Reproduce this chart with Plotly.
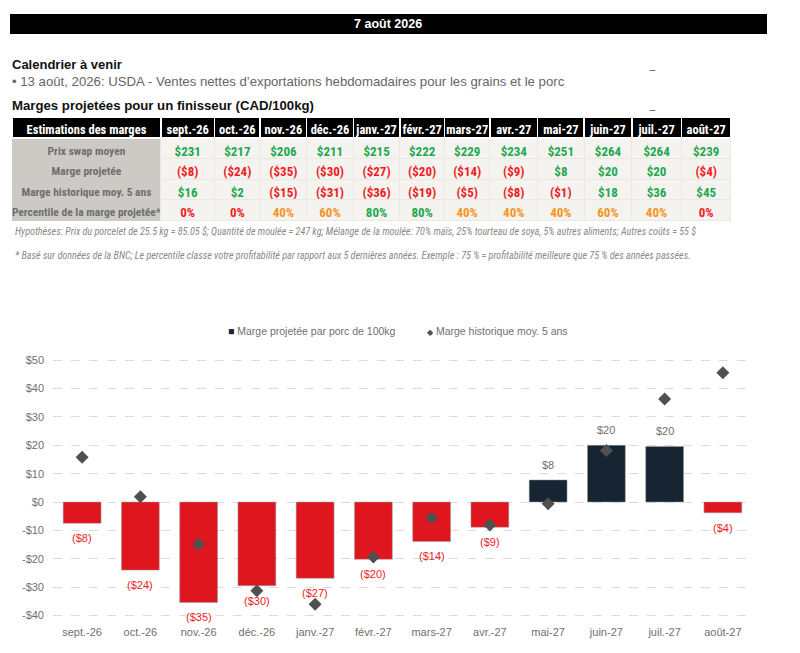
"""
Marges projetées pour un finisseur - tableau + graphique
"""
import plotly.graph_objects as go

# Données
months = ['sept.-26', 'oct.-26', 'nov.-26', 'déc.-26', 'janv.-27', 'févr.-27',
          'mars-27', 'avr.-27', 'mai-27', 'juin-27', 'juil.-27', 'août-27']
swap_price = [231, 217, 206, 211, 215, 222, 229, 234, 251, 264, 264, 239]
proj_margin_rounded = [-8, -24, -35, -30, -27, -20, -14, -9, 8, 20, 20, -4]
hist_margin_rounded = [16, 2, -15, -31, -36, -19, -5, -8, -1, 18, 36, 45]
percentile = [0, 0, 40, 60, 80, 80, 40, 40, 40, 60, 40, 0]

# valeurs
proj_margin = [-7.5, -24.0, -35.4, -29.5, -26.9, -20.2, -13.9, -8.9, 7.8, 20.0, 19.6, -3.8]
hist_margin = [15.8, 1.9, -14.9, -31.3, -36.0, -19.4, -5.6, -8.1, -0.6, 18.2, 36.3, 45.6]

row_labels = ['Prix swap moyen', 'Marge projetée', 'Marge historique moy. 5 ans',
              'Percentile de la marge projetée*']
y_tickvals = [-40, -30, -20, -10, 0, 10, 20, 30, 40, 50]
y_ticktext = ['-$40', '-$30', '-$20', '-$10', '$0', '$10', '$20', '$30', '$40', '$50']

GREEN = '#1fa84f'
RED = '#ee1c25'
ORANGE = '#f7931e'
NAVY = '#172533'
BAR_RED = '#e0161f'
GRAY_TXT = '#6f6f6f'
W, H = 800, 653
NARROW = 'Roboto Condensed, Open Sans Condensed, DejaVu Sans Condensed, sans-serif'
SANS = 'Liberation Sans, Arial, sans-serif'


def px(x):
    return x / W


def py(y):
    return 1 - y / H


def money(v):
    return f'${v}' if v >= 0 else f'(${-v})'


def money_color(v):
    return GREEN if v >= 0 else RED


def pct_color(p):
    if p >= 80:
        return GREEN
    if p >= 40:
        return ORANGE
    return RED


# Table (espaces insécables pour éviter le retour à la ligne automatique)
cols = [[lbl.replace(' ', '\u00a0') for lbl in row_labels]]
font_colors = [[GRAY_TXT] * 4]
font_sizes = [11.5]
fills = [['#cdcac5'] * 4]
lines = ['#cdcac5']
for i in range(len(months)):
    cols.append([money(swap_price[i]), money(proj_margin_rounded[i]),
                 money(hist_margin_rounded[i]), f'{percentile[i]}%'])
    font_colors.append([GREEN, money_color(proj_margin_rounded[i]),
                        money_color(hist_margin_rounded[i]), pct_color(percentile[i])])
    font_sizes.append(13)
    fills.append(['#f5f3ef'] * 4)
    lines.append('#ebe8e3')

col_widths = [147, 53, 45, 46, 46, 46, 44, 45, 47, 46, 47, 49, 49]

fig = go.Figure()

fig.add_trace(go.Table(
    domain=dict(x=[px(12), px(731)], y=[py(222), py(117)]),
    columnwidth=col_widths,
    header=dict(values=['Estimations\u00a0des\u00a0marges'] + months,
                fill_color='#000000', line=dict(color='white', width=1.5),
                font=dict(family=NARROW, size=12.5, color='white', weight='bold'),
                align='center', height=21),
    cells=dict(values=cols, fill_color=fills, line=dict(color=lines, width=1),
               font=dict(family=NARROW, size=font_sizes, color=font_colors, weight='bold'),
               align='center', height=20.5),
))

# Graphique
bar_colors = [NAVY if v >= 0 else BAR_RED for v in proj_margin]
fig.add_trace(go.Bar(
    x=months, y=proj_margin, marker=dict(color=bar_colors, line=dict(color='#9aa0a6', width=0.5)),
    width=0.65, showlegend=False, hoverinfo='x+y',
))
fig.add_trace(go.Scatter(
    x=months, y=hist_margin, mode='markers',
    marker=dict(symbol='diamond', size=10, color='#505050'),
    showlegend=False,
))

annotations = []
for m, v, r in zip(months, proj_margin, proj_margin_rounded):
    annotations.append(dict(
        x=m, y=v, xref='x', yref='y', text=money(r), showarrow=False,
        yanchor='top' if v < 0 else 'bottom', yshift=-7 if v < 0 else 7,
        font=dict(family=SANS, size=11, color=RED if v < 0 else '#6f6f6f'),
    ))

# Textes d'en-tête
fig.add_shape(type='rect', xref='paper', yref='paper', x0=px(10), x1=px(767),
              y0=py(34), y1=py(14), fillcolor='black', line=dict(width=0))
texts = [
    dict(x=px(388), y=py(24), text='<b>7 août 2026</b>', xanchor='center',
         font=dict(family=SANS, size=12.5, color='white')),
    dict(x=px(10), y=py(64), text='<b>Calendrier à venir</b>', xanchor='left',
         font=dict(family=SANS, size=13, color='#111111')),
    dict(x=px(10), y=py(82),
         text='• 13 août, 2026: USDA - Ventes nettes d’exportations hebdomadaires pour les grains et le porc',
         xanchor='left', font=dict(family=SANS, size=13.2, color='#666666')),
    dict(x=px(10), y=py(105), text='<b>Marges projetées pour un finisseur (CAD/100kg)</b>',
         xanchor='left', font=dict(family=SANS, size=13.2, color='#111111')),
    dict(x=px(652), y=py(66), text='_', xanchor='center', font=dict(family=SANS, size=9, color='#111111')),
    dict(x=px(652), y=py(106), text='_', xanchor='center', font=dict(family=SANS, size=9, color='#111111')),
    dict(x=px(13), y=py(231),
         text='<i>Hypothèses: Prix du porcelet de 25.5 kg = 85.05 $; Quantité de moulée = 247 kg; Mélange de la moulée: 70% maïs, 25% tourteau de soya, 5% autres aliments; Autres coûts = 55 $</i>',
         xanchor='left', font=dict(family=NARROW, size=10.1, color='#8a8a8a')),
    dict(x=px(13), y=py(255),
         text='<i>* Basé sur données de la BNC; Le percentile classe votre profitabilité par rapport aux 5 dernières années. Exemple : 75 % = profitabilité meilleure que 75 % des années passées.</i>',
         xanchor='left', font=dict(family=NARROW, size=10.1, color='#8a8a8a')),
    # légende
    dict(x=px(226), y=py(331),
         text=f'<span style="color:{NAVY}">■</span> Marge projetée par porc de 100kg',
         xanchor='left', font=dict(family=SANS, size=10.5, color='#6f6f6f')),
    dict(x=px(425), y=py(331),
         text='<span style="color:#505050;font-size:8px">◆</span> Marge historique moy. 5 ans',
         xanchor='left', font=dict(family=SANS, size=10.5, color='#6f6f6f')),
]
for t in texts:
    t.update(xref='paper', yref='paper', showarrow=False, yanchor='middle')
    annotations.append(t)

fig.update_layout(
    width=W, height=H,
    margin=dict(l=0, r=0, t=0, b=0),
    paper_bgcolor='white', plot_bgcolor='white',
    annotations=annotations,
    xaxis=dict(domain=[px(53), px(752)], range=[-0.5, 11.5], showgrid=False,
               showline=False, ticks='', tickfont=dict(family=SANS, size=11, color='#6f6f6f')),
    yaxis=dict(domain=[py(624), py(354.6)], range=[-43, 52], tickvals=y_tickvals,
               ticktext=y_ticktext, showgrid=True, gridcolor='#dcdcdc', griddash='dash',
               gridwidth=1, zeroline=False, showline=False, ticks='',
               ticklabelstandoff=8,
               tickfont=dict(family=SANS, size=11, color='#6f6f6f')),
)

fig.write_html("out.html", config={'displayModeBar': False},
               post_script="document.body.style.margin='0px';")
